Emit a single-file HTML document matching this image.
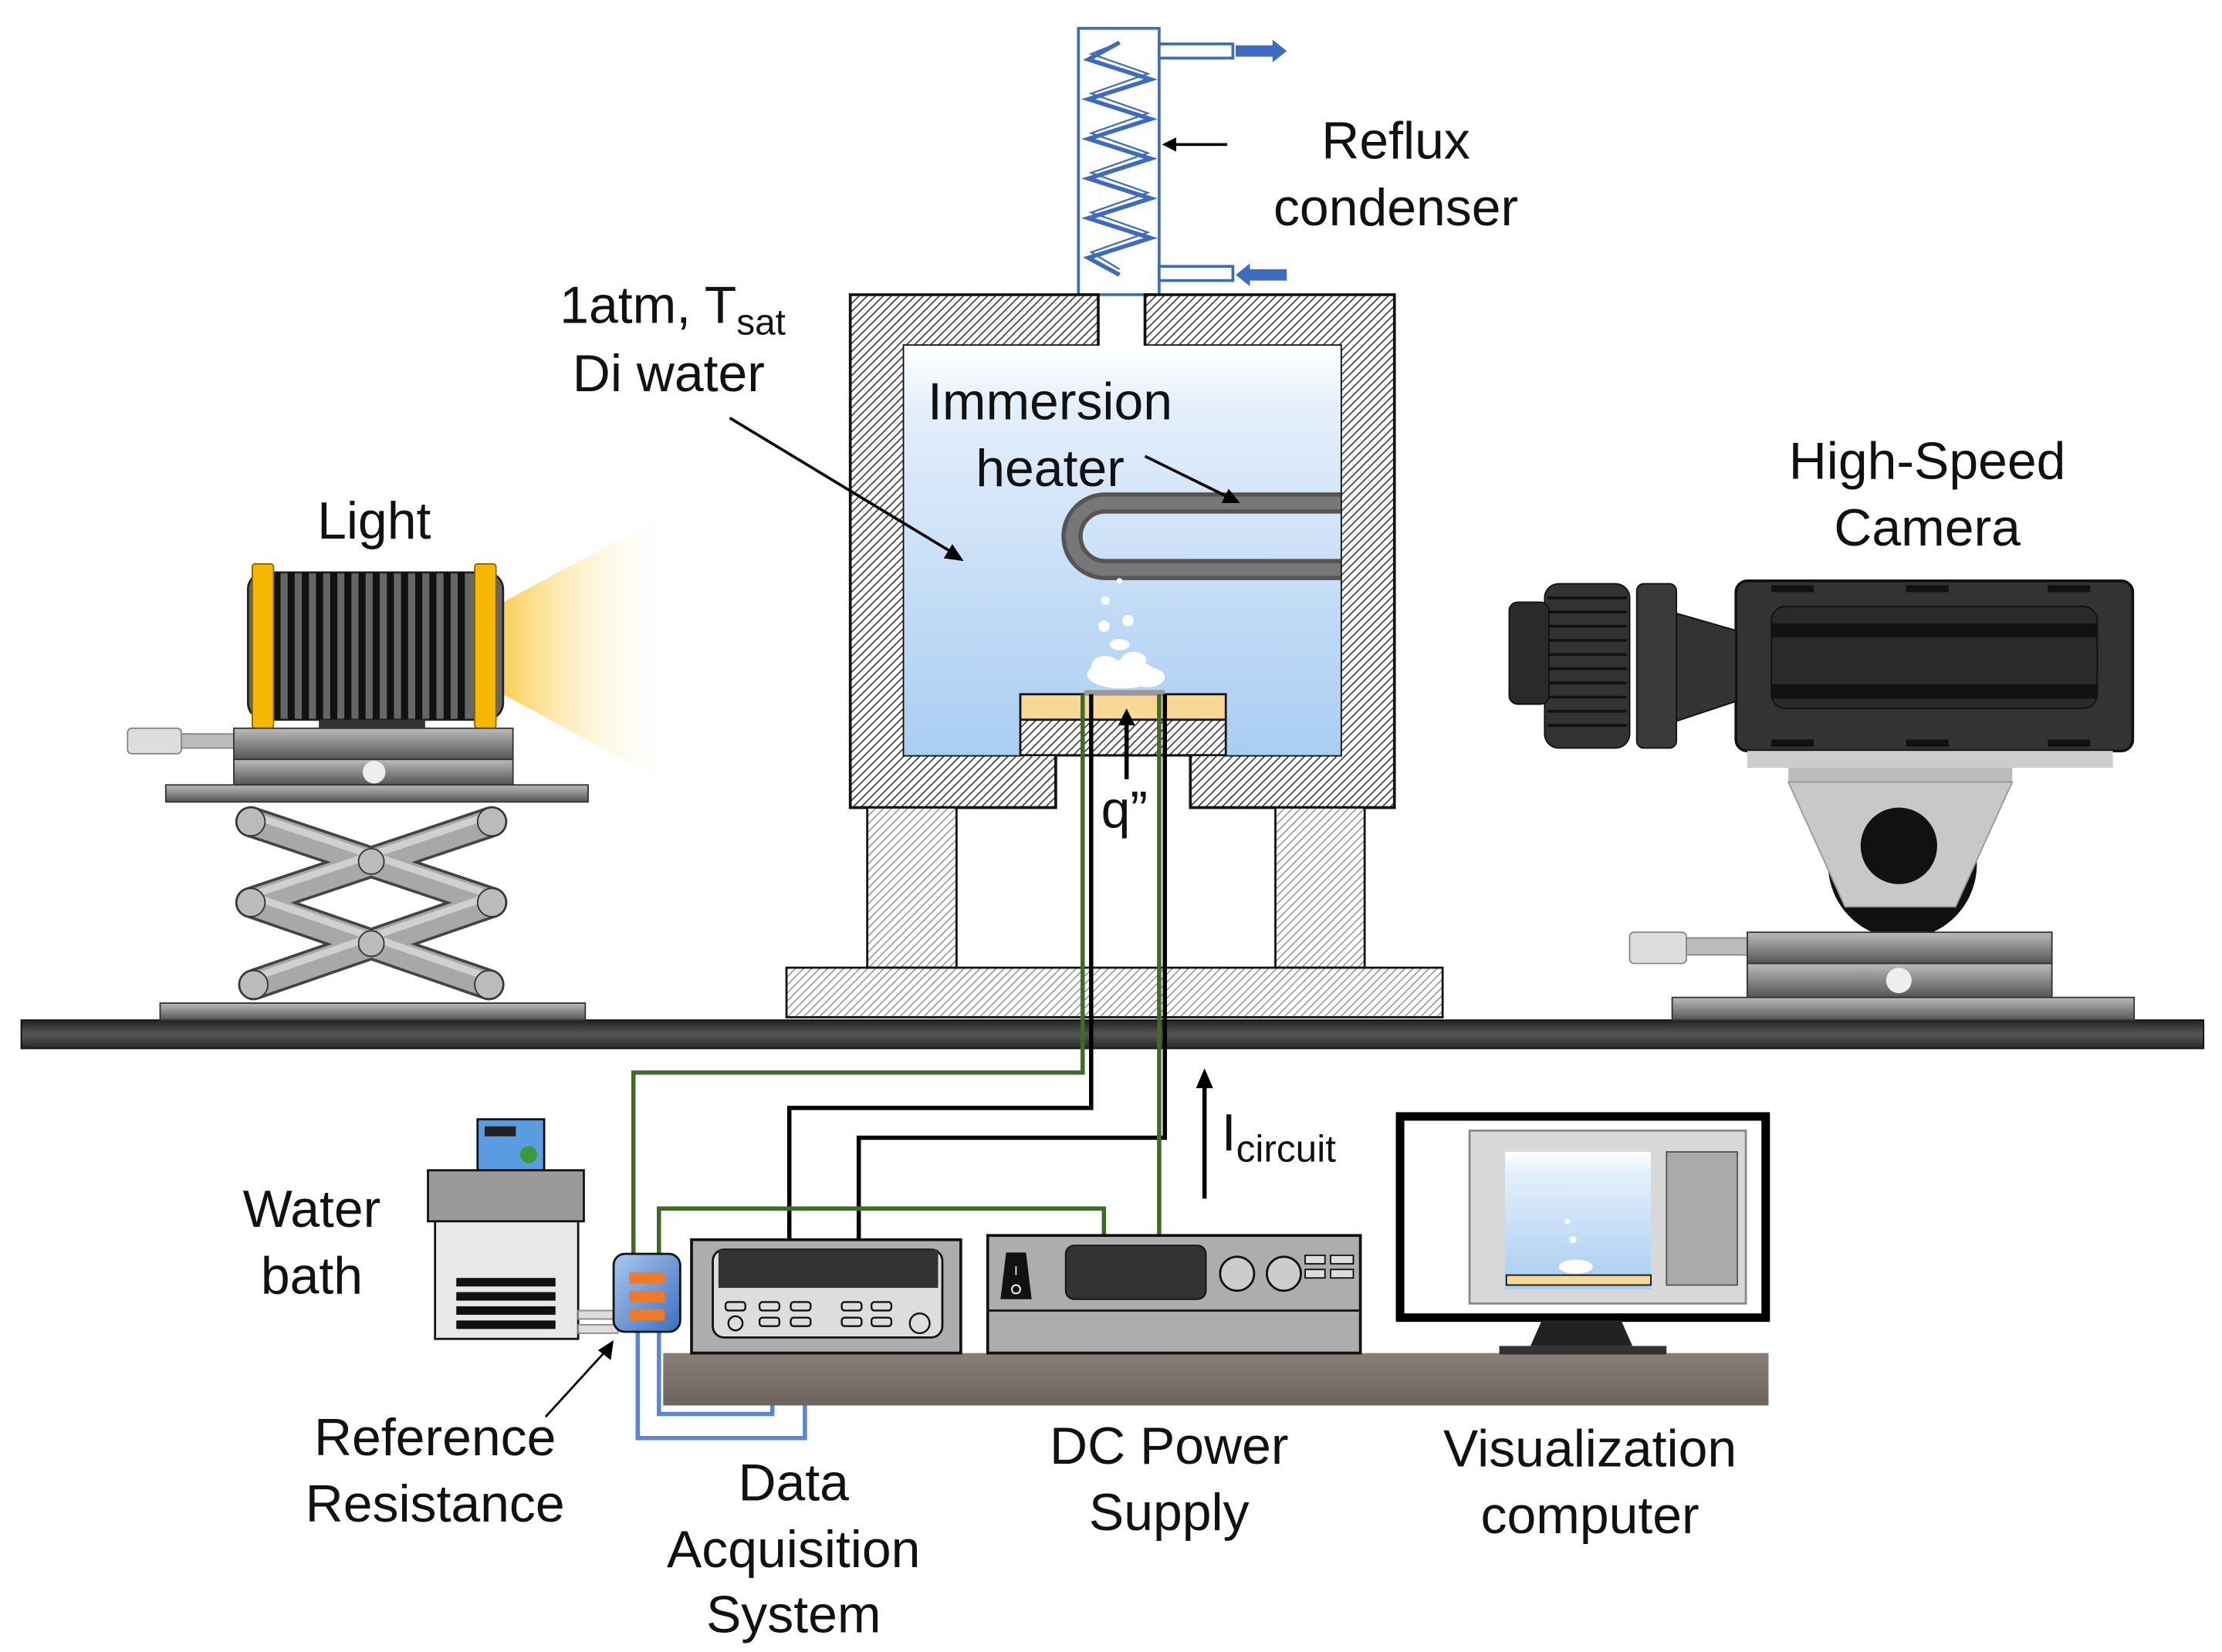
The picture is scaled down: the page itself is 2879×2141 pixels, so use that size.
<!DOCTYPE html>
<html><head><meta charset="utf-8"><style>
html,body{margin:0;padding:0;background:#fff;}
svg{display:block;}
text{font-family:"Liberation Sans",sans-serif;fill:#111;}
</style></head><body>
<svg width="2879" height="2141" viewBox="0 0 1568 1166" preserveAspectRatio="none" xmlns="http://www.w3.org/2000/svg">
<defs>
<pattern id="h" width="4" height="4" patternUnits="userSpaceOnUse" patternTransform="rotate(45)">
<rect width="4" height="4" fill="#fff"/><line x1="0" y1="0" x2="0" y2="4" stroke="#333" stroke-width="1.7"/></pattern>
<pattern id="h2" width="4" height="4" patternUnits="userSpaceOnUse" patternTransform="rotate(45)">
<rect width="4" height="4" fill="#fff"/><line x1="0" y1="0" x2="0" y2="4" stroke="#888" stroke-width="1.5"/></pattern>
<linearGradient id="water" x1="0" y1="0" x2="0" y2="1"><stop offset="0" stop-color="#fff"/><stop offset="0.15" stop-color="#e4effb"/><stop offset="1" stop-color="#a9cdf2"/></linearGradient>
<linearGradient id="beam" x1="0" y1="0" x2="1" y2="0"><stop offset="0" stop-color="#fccf55"/><stop offset="1" stop-color="#fff" stop-opacity="0"/></linearGradient>
<linearGradient id="bar" x1="0" y1="0" x2="0" y2="1"><stop offset="0" stop-color="#222"/><stop offset="0.5" stop-color="#555"/><stop offset="1" stop-color="#2a2a2a"/></linearGradient>
<linearGradient id="plate" x1="0" y1="0" x2="0" y2="1"><stop offset="0" stop-color="#bbb"/><stop offset="1" stop-color="#555"/></linearGradient>
<linearGradient id="bench" x1="0" y1="0" x2="0" y2="1"><stop offset="0" stop-color="#8a7f77"/><stop offset="1" stop-color="#6e645d"/></linearGradient>
<linearGradient id="res" x1="0" y1="0" x2="1" y2="1"><stop offset="0" stop-color="#a9c8f0"/><stop offset="1" stop-color="#3c6fc0"/></linearGradient>
</defs>

<!-- table bar -->
<rect x="15" y="720" width="1540" height="20" fill="url(#bar)" stroke="#111"/>

<!-- condenser -->
<rect x="761" y="20" width="57" height="188" fill="#fff" stroke="#3d6bbf" stroke-width="2"/>
<polyline points="790,30 768,42 812,56 768,70 812,84 768,98 812,112 768,126 812,140 768,154 812,168 768,182 790,194" fill="none" stroke="#3d6bbf" stroke-width="3"/>
<polyline points="790,30 770,38 810,52 770,66 810,80 770,94 810,108 770,122 810,136 770,150 810,164 770,178 790,190" fill="none" stroke="#3d6bbf" stroke-width="1.2"/>
<rect x="818" y="31" width="52" height="10" fill="#fff" stroke="#3d6bbf" stroke-width="2"/>
<rect x="818" y="188" width="52" height="10" fill="#fff" stroke="#3d6bbf" stroke-width="2"/>
<polygon points="872,32 898,32 898,28 908,36 898,44 898,40 872,40" fill="#3d6bbf"/>
<polygon points="908,190 882,190 882,186 872,194 882,202 882,198 908,198" fill="#3d6bbf"/>
<line x1="866" y1="102" x2="826" y2="102" stroke="#000" stroke-width="2"/>
<polygon points="820,102 830,97 830,107" fill="#000"/>
<text x="985" y="112" font-size="37" text-anchor="middle">Reflux</text>
<text x="985" y="159" font-size="37" text-anchor="middle">condenser</text>

<!-- vessel -->
<path d="M600,208 H775 V244 H638 V533 H720 V490 H865 V533 H946 V244 H808 V208 H984 V570 H840 V533 H745 V570 H600 Z" fill="url(#h)" stroke="#111" stroke-width="2"/>
<rect x="638" y="244" width="308" height="289" fill="url(#water)"/>
<rect x="720" y="490" width="145" height="18" fill="#f7d993" stroke="#111" stroke-width="1.5"/>
<rect x="720" y="508" width="145" height="25" fill="url(#h)" stroke="#111" stroke-width="1.5"/>
<rect x="765" y="487" width="57" height="4" fill="#999"/>
<rect x="612" y="570" width="63" height="113" fill="url(#h2)" stroke="#111" stroke-width="1.5"/>
<rect x="900" y="570" width="63" height="113" fill="url(#h2)" stroke="#111" stroke-width="1.5"/>
<rect x="555" y="683" width="463" height="35" fill="url(#h2)" stroke="#111" stroke-width="1.5"/>
<!-- heater U -->
<path d="M946,355 H780 A23,23 0 0 0 780,402 H946" fill="none" stroke="#555" stroke-width="15"/>
<path d="M946,355 H780 A23,23 0 0 0 780,402 H946" fill="none" stroke="#777" stroke-width="9"/>
<!-- bubbles -->
<g fill="#fff"><ellipse cx="792" cy="476" rx="25" ry="10"/><ellipse cx="780" cy="470" rx="10" ry="7"/><ellipse cx="800" cy="466" rx="9" ry="6"/><ellipse cx="810" cy="478" rx="12" ry="7"/><ellipse cx="790" cy="455" rx="7" ry="4"/><circle cx="779" cy="442" r="4"/><circle cx="796" cy="438" r="4"/><circle cx="780" cy="424" r="3"/><circle cx="790" cy="410" r="2"/></g>
<text x="741" y="296" font-size="37" text-anchor="middle">Immersion</text>
<text x="741" y="343" font-size="37" text-anchor="middle">heater</text>
<line x1="808" y1="322" x2="865" y2="350" stroke="#000" stroke-width="2"/>
<polygon points="875,355 862,355 867,345" fill="#000"/>
<text x="395" y="228" font-size="37">1atm, T<tspan font-size="26" dy="8">sat</tspan></text>
<text x="404" y="276" font-size="37">Di water</text>
<line x1="515" y1="295" x2="672" y2="390" stroke="#000" stroke-width="2"/>
<polygon points="680,396 666,394 672,384" fill="#000"/>
<line x1="795" y1="550" x2="795" y2="508" stroke="#000" stroke-width="3"/>
<polygon points="795,500 789,512 801,512" fill="#000"/>
<text x="777" y="584" font-size="37">q”</text>

<!-- wires -->
<g fill="none" stroke-width="3">
<polyline points="764,490 764,757 447,757 447,905" stroke="#3f6a2a"/>
<polyline points="770,490 770,782 557,782 557,875" stroke="#000"/>
<polyline points="822,490 822,803 606,803 606,875" stroke="#000"/>
<polyline points="818,490 818,872" stroke="#3f6a2a"/>
<polyline points="465,905 465,853 779,853 779,872" stroke="#3f6a2a"/>
<polyline points="465,940 465,998 545,998 545,955" stroke="#5b86d4"/>
<polyline points="450,940 450,1015 568,1015 568,955" stroke="#5b86d4"/>
</g>
<line x1="850" y1="846" x2="850" y2="764" stroke="#000" stroke-width="3"/>
<polygon points="850,754 844,768 856,768" fill="#000"/>
<text x="862" y="812" font-size="37">I<tspan font-size="27" dy="8">circuit</tspan></text>

<!-- bench -->
<rect x="468" y="955" width="780" height="37" fill="url(#bench)"/>

<!-- water bath -->
<rect x="337" y="790" width="47" height="36" fill="#5b9be0" stroke="#111" stroke-width="1.5"/>
<rect x="342" y="795" width="22" height="7" fill="#222"/>
<circle cx="373" cy="815" r="6" fill="#3a9a3a"/>
<rect x="302" y="826" width="110" height="36" fill="#9a9a9a" stroke="#111" stroke-width="1.5"/>
<rect x="307" y="862" width="101" height="83" fill="#e8e8e8" stroke="#111" stroke-width="1.5"/>
<g fill="#111"><rect x="322" y="902" width="70" height="6"/><rect x="322" y="912" width="70" height="6"/><rect x="322" y="922" width="70" height="6"/><rect x="322" y="932" width="70" height="6"/></g>
<rect x="408" y="925" width="28" height="6" fill="#ddd" stroke="#888"/>
<rect x="408" y="935" width="28" height="6" fill="#ddd" stroke="#888"/>
<text x="220" y="866" font-size="37" text-anchor="middle">Water</text>
<text x="220" y="913" font-size="37" text-anchor="middle">bath</text>
<!-- reference resistance -->
<rect x="433" y="885" width="47" height="55" rx="8" fill="url(#res)" stroke="#111" stroke-width="1.5"/>
<g fill="#ee7a2a"><rect x="444" y="898" width="25" height="8"/><rect x="444" y="911" width="25" height="8"/><rect x="444" y="924" width="25" height="8"/></g>
<line x1="385" y1="1000" x2="427" y2="954" stroke="#000" stroke-width="1.5"/>
<polygon points="433,946 431,960 422,953" fill="#000"/>
<text x="307" y="1027" font-size="37" text-anchor="middle">Reference</text>
<text x="307" y="1074" font-size="37" text-anchor="middle">Resistance</text>

<!-- DAQ -->
<rect x="488" y="875" width="190" height="80" fill="#adadad" stroke="#111" stroke-width="2"/>
<rect x="503" y="882" width="162" height="62" rx="8" fill="#ddd" stroke="#111" stroke-width="1.5"/>
<rect x="507" y="882" width="155" height="27" fill="#333"/>
<g fill="#ddd" stroke="#111" stroke-width="1.3"><rect x="512" y="919" width="14" height="6" rx="2"/><rect x="536" y="919" width="14" height="6" rx="2"/><rect x="558" y="919" width="14" height="6" rx="2"/><rect x="594" y="919" width="14" height="6" rx="2"/><rect x="615" y="919" width="14" height="6" rx="2"/><rect x="536" y="930" width="14" height="6" rx="2"/><rect x="558" y="930" width="14" height="6" rx="2"/><rect x="594" y="930" width="14" height="6" rx="2"/><rect x="615" y="930" width="14" height="6" rx="2"/><circle cx="519" cy="934" r="5"/><circle cx="649" cy="934" r="7"/></g>
<text x="560" y="1059" font-size="37" text-anchor="middle">Data</text>
<text x="560" y="1106" font-size="37" text-anchor="middle">Acquisition</text>
<text x="560" y="1152" font-size="37" text-anchor="middle">System</text>

<!-- DC Power supply -->
<rect x="697" y="872" width="263" height="83" fill="#adadad" stroke="#111" stroke-width="2"/>
<line x1="697" y1="925" x2="960" y2="925" stroke="#111" stroke-width="1.5"/>
<polygon points="706,917 728,917 724,884 710,884" fill="#111"/>
<text x="717" y="900" font-size="9" text-anchor="middle" style="fill:#fff">I</text>
<circle cx="717" cy="910" r="3" fill="none" stroke="#fff"/>
<rect x="752" y="879" width="99" height="38" rx="6" fill="#333" stroke="#111"/>
<circle cx="873" cy="899" r="12" fill="#ccc" stroke="#111" stroke-width="1.5"/>
<circle cx="906" cy="899" r="12" fill="#ccc" stroke="#111" stroke-width="1.5"/>
<g fill="#ddd" stroke="#111"><rect x="921" y="886" width="14" height="6"/><rect x="939" y="886" width="16" height="6"/><rect x="921" y="896" width="14" height="6"/><rect x="939" y="896" width="16" height="6"/></g>
<text x="825" y="1033" font-size="37" text-anchor="middle">DC Power</text>
<text x="825" y="1080" font-size="37" text-anchor="middle">Supply</text>

<!-- monitor -->
<rect x="988" y="788" width="258" height="142" fill="#fff" stroke="#000" stroke-width="6"/>
<rect x="1037" y="798" width="195" height="122" fill="#d8d8d8" stroke="#888" stroke-width="1.5"/>
<rect x="1062" y="813" width="103" height="97" fill="url(#water)"/>
<rect x="1063" y="900" width="102" height="7" fill="#f7d993" stroke="#111"/>
<ellipse cx="1112" cy="894" rx="12" ry="5" fill="#fff"/>
<circle cx="1106" cy="862" r="2" fill="#fff"/><circle cx="1110" cy="875" r="2.5" fill="#fff"/>
<rect x="1176" y="813" width="50" height="94" fill="#aaa" stroke="#555"/>
<polygon points="1088,932 1144,932 1152,950 1080,950" fill="#222"/>
<rect x="1058" y="950" width="118" height="6" fill="#333"/>
<text x="1122" y="1035" font-size="37" text-anchor="middle">Visualization</text>
<text x="1122" y="1082" font-size="37" text-anchor="middle">computer</text>

<!-- Light -->
<polygon points="355,425 475,360 475,555 355,490" fill="url(#beam)"/>
<rect x="175" y="404" width="180" height="104" rx="12" fill="#666" stroke="#222" stroke-width="1.5"/>
<g fill="#111"><rect x="193" y="404" width="5" height="104"/><rect x="203" y="404" width="5" height="104"/><rect x="213" y="404" width="5" height="104"/><rect x="223" y="404" width="5" height="104"/><rect x="233" y="404" width="5" height="104"/><rect x="243" y="404" width="5" height="104"/><rect x="253" y="404" width="5" height="104"/><rect x="263" y="404" width="5" height="104"/><rect x="273" y="404" width="5" height="104"/><rect x="283" y="404" width="5" height="104"/><rect x="293" y="404" width="5" height="104"/><rect x="303" y="404" width="5" height="104"/><rect x="313" y="404" width="5" height="104"/><rect x="323" y="404" width="5" height="104"/></g>
<rect x="178" y="398" width="15" height="116" rx="2" fill="#f5b800" stroke="#886600"/>
<rect x="335" y="398" width="15" height="116" rx="2" fill="#f5b800" stroke="#886600"/>
<rect x="225" y="508" width="75" height="8" fill="#333"/>
<text x="264" y="380" font-size="37" text-anchor="middle">Light</text>
<rect x="90" y="514" width="38" height="18" rx="3" fill="#ddd" stroke="#888"/>
<rect x="128" y="518" width="38" height="10" fill="#bbb" stroke="#888"/>
<rect x="165" y="514" width="197" height="22" fill="url(#plate)" stroke="#333"/>
<rect x="165" y="536" width="197" height="18" fill="url(#plate)" stroke="#333"/>
<circle cx="264" cy="545" r="8" fill="#eee"/>
<rect x="117" y="554" width="298" height="12" fill="url(#plate)" stroke="#333"/>
<!-- scissor -->
<g stroke-linecap="round">
<g stroke="#444" stroke-width="22"><line x1="177" y1="580" x2="347" y2="637"/><line x1="347" y1="580" x2="177" y2="637"/><line x1="177" y1="637" x2="345" y2="695"/><line x1="347" y1="637" x2="179" y2="695"/></g>
<g stroke="#a8a8a8" stroke-width="18"><line x1="177" y1="580" x2="347" y2="637"/><line x1="347" y1="580" x2="177" y2="637"/><line x1="177" y1="637" x2="345" y2="695"/><line x1="347" y1="637" x2="179" y2="695"/></g>
<g stroke="#d0d0d0" stroke-width="5"><line x1="177" y1="575" x2="347" y2="632"/><line x1="347" y1="575" x2="177" y2="632"/><line x1="177" y1="632" x2="345" y2="690"/><line x1="347" y1="632" x2="179" y2="690"/></g>
</g>
<g fill="#bbb" stroke="#333"><circle cx="177" cy="580" r="10"/><circle cx="347" cy="580" r="10"/><circle cx="262" cy="608" r="9"/><circle cx="177" cy="637" r="10"/><circle cx="347" cy="637" r="10"/><circle cx="262" cy="666" r="9"/><circle cx="179" cy="695" r="10"/><circle cx="345" cy="695" r="10"/></g>
<rect x="113" y="708" width="300" height="12" fill="url(#plate)" stroke="#333"/>

<!-- Camera -->
<text x="1360" y="338" font-size="37" text-anchor="middle">High-Speed</text>
<text x="1360" y="385" font-size="37" text-anchor="middle">Camera</text>
<rect x="1225" y="410" width="280" height="120" rx="8" fill="#333" stroke="#111" stroke-width="2"/>
<rect x="1250" y="428" width="230" height="72" rx="10" fill="#2a2a2a" stroke="#111"/>
<rect x="1250" y="440" width="230" height="10" fill="#111"/>
<rect x="1250" y="483" width="230" height="10" fill="#111"/>
<g fill="#111"><rect x="1250" y="413" width="30" height="5"/><rect x="1345" y="413" width="30" height="5"/><rect x="1445" y="413" width="30" height="5"/><rect x="1250" y="522" width="30" height="5"/><rect x="1345" y="522" width="30" height="5"/><rect x="1445" y="522" width="30" height="5"/></g>
<polygon points="1180,432 1225,445 1225,495 1180,510" fill="#333" stroke="#111"/>
<rect x="1155" y="412" width="28" height="116" rx="5" fill="#3a3a3a" stroke="#111"/>
<rect x="1090" y="412" width="60" height="116" rx="10" fill="#333" stroke="#111"/>
<g stroke="#111" stroke-width="2"><line x1="1092" y1="422" x2="1148" y2="422"/><line x1="1092" y1="432" x2="1148" y2="432"/><line x1="1092" y1="442" x2="1148" y2="442"/><line x1="1092" y1="452" x2="1148" y2="452"/><line x1="1092" y1="462" x2="1148" y2="462"/><line x1="1092" y1="472" x2="1148" y2="472"/><line x1="1092" y1="482" x2="1148" y2="482"/><line x1="1092" y1="492" x2="1148" y2="492"/><line x1="1092" y1="502" x2="1148" y2="502"/><line x1="1092" y1="512" x2="1148" y2="512"/></g>
<rect x="1065" y="425" width="28" height="72" rx="6" fill="#2a2a2a" stroke="#111"/>
<rect x="1233" y="530" width="258" height="12" fill="#ccc"/>
<rect x="1262" y="542" width="158" height="10" fill="#bbb"/>
<path d="M1290,610 A50,50 0 0 0 1395,610 L1395,600 L1290,600 Z" fill="#111"/>
<polygon points="1262,552 1420,552 1380,640 1302,640" fill="#c8c8c8" stroke="#999"/>
<circle cx="1340" cy="597" r="27" fill="#111"/>
<rect x="1150" y="658" width="40" height="22" rx="3" fill="#ddd" stroke="#888"/>
<rect x="1190" y="662" width="45" height="12" fill="#bbb" stroke="#888"/>
<rect x="1233" y="658" width="215" height="22" fill="url(#plate)" stroke="#333"/>
<rect x="1233" y="680" width="215" height="24" fill="url(#plate)" stroke="#333"/>
<circle cx="1340" cy="692" r="9" fill="#eee"/>
<rect x="1180" y="704" width="326" height="16" fill="url(#plate)" stroke="#333"/>
</svg>
</body></html>
